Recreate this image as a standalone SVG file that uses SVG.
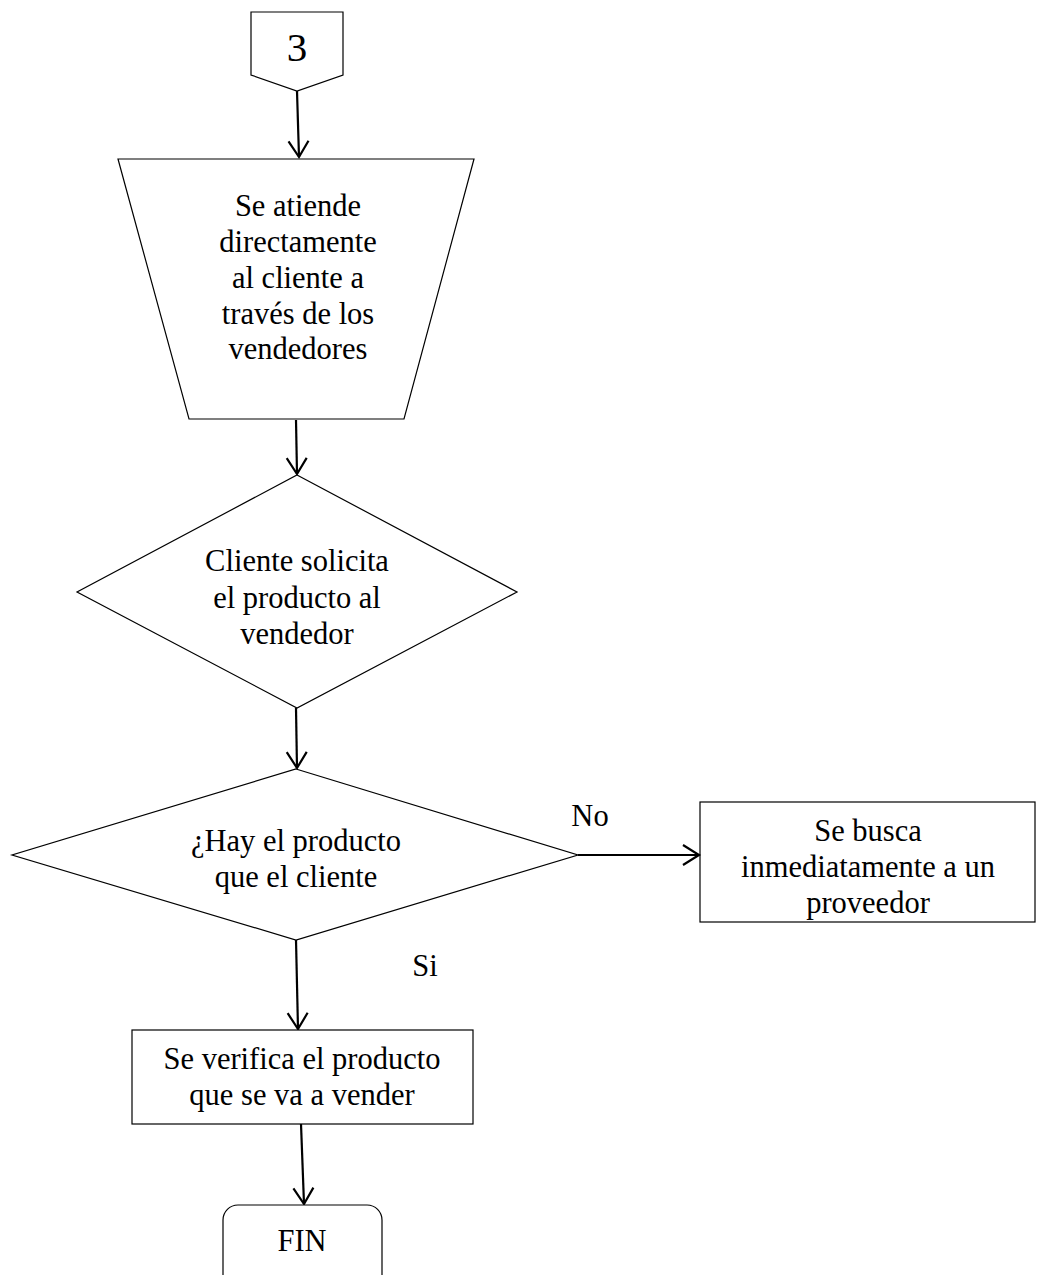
<svg xmlns="http://www.w3.org/2000/svg" width="1037" height="1275" viewBox="0 0 1037 1275">
<style>
.shape{fill:#fff;stroke:#000;stroke-width:1.2}
.conn{fill:none;stroke:#000;stroke-width:2.2}
text{font-family:"Liberation Serif","Times New Roman",serif;font-size:30.5px;fill:#000;text-anchor:middle}
</style>
<defs>
<marker id="arr" markerUnits="userSpaceOnUse" markerWidth="24" markerHeight="24" viewBox="0 0 24 24" refX="20" refY="12" orient="auto">
<path d="M4,2 L20,12 L4,22" fill="none" stroke="#000" stroke-width="2.2"/>
</marker>
</defs>
<rect width="1037" height="1275" fill="#fff"/>
<g id="connectors">
<line class="conn" x1="297" y1="91" x2="299" y2="157" marker-end="url(#arr)"/>
<line class="conn" x1="296" y1="420" x2="297" y2="474" marker-end="url(#arr)"/>
<line class="conn" x1="296" y1="708" x2="297" y2="768" marker-end="url(#arr)"/>
<line class="conn" x1="578" y1="855" x2="699" y2="855" marker-end="url(#arr)"/>
<line class="conn" x1="296" y1="940" x2="298" y2="1029" marker-end="url(#arr)"/>
<line class="conn" x1="301" y1="1124" x2="304" y2="1204" marker-end="url(#arr)"/>
</g>
<g id="start">
<polygon class="shape" points="251,12 343,12 343,75 297,91 251,75"/>
<text x="297" y="61" style="font-size:41px">3</text>
</g>
<g id="atiende">
<polygon class="shape" points="118,159 474,159 404,419 189,419"/>
<text x="298" y="216">Se atiende</text>
<text x="298" y="252">directamente</text>
<text x="298" y="288">al cliente a</text>
<text x="298" y="324">través de los</text>
<text x="298" y="359">vendedores</text>
</g>
<g id="solicita">
<polygon class="shape" points="297,475 517,592 297,708 77,592"/>
<text x="297" y="571">Cliente solicita</text>
<text x="297" y="608">el producto al</text>
<text x="297" y="644">vendedor</text>
</g>
<g id="hay">
<polygon class="shape" points="296,769 578,855 296,940 12,855"/>
<text x="296" y="851">¿Hay el producto</text>
<text x="296" y="887">que el cliente</text>
</g>
<g id="busca">
<text x="868" y="841">Se busca</text>
<text x="868" y="877">inmediatamente a un</text>
<text x="868" y="913">proveedor</text>
<rect x="700" y="802" width="335" height="120" fill="none" stroke="#000" stroke-width="1.2"/>
</g>
<g id="verifica">
<rect class="shape" x="132" y="1030" width="341" height="94"/>
<text x="302" y="1069">Se verifica el producto</text>
<text x="302" y="1105">que se va a vender</text>
</g>
<g id="fin">
<rect class="shape" x="223" y="1205" width="159" height="90" rx="15" ry="15"/>
<text x="302" y="1251">FIN</text>
</g>
<g id="labels">
<text x="590" y="826">No</text>
<text x="425" y="976">Si</text>
</g>
</svg>
